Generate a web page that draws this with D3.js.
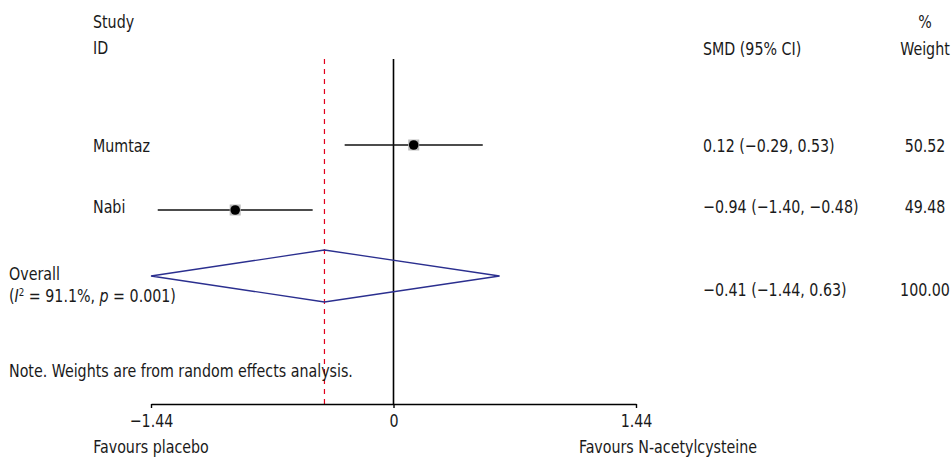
<!DOCTYPE html>
<html><head><meta charset="utf-8">
<script src="https://cdn.jsdelivr.net/npm/d3@7"></script>
<style>
body{margin:0;background:#fff;}
text{font-family:"DejaVu Sans Condensed","DejaVu Sans",sans-serif;font-stretch:condensed;font-size:18px;fill:#1a1a1a;}
</style></head><body>
<svg id="c" width="952" height="459"></svg>
<script>
const studies = ["Mumtaz", "Nabi"];
const smd = [0.12, -0.94];
const lower = [-0.29, -1.40];
const upper = [0.53, -0.48];
const weights = ["50.52", "49.48"];
const ciLabels = ["0.12 (\u22120.29, 0.53)", "\u22120.94 (\u22121.40, \u22120.48)"];
const overall = {est: -0.41, lo: -1.44, hi: 0.63, label: "\u22120.41 (\u22121.44, 0.63)", weight: "100.00"};
const tickValues = [-1.44, 0, 1.44];
const tickLabels = ["\u22121.44", "0", "1.44"];

const SX = 0.88;
const svg = d3.select("#c");
const x = d3.scaleLinear().domain([-1.44, 1.44]).range([151, 636]);
const rowY = d3.scalePoint().domain(studies).range([145, 210]);
const yOverall = 276, yTop = 59, yAxis = 404;

function txt(px, py, s, anchor) {
  return svg.append("text")
    .attr("transform", `translate(${px},${py}) scale(${SX},1)`)
    .attr("text-anchor", anchor || "start").text(s);
}

// header
txt(93, 28, "Study");
txt(93, 54, "ID");
txt(703, 55, "SMD (95% CI)");
txt(925, 28, "%", "middle");
txt(925, 55, "Weight", "middle");

// null line
svg.append("line").attr("x1", x(0)).attr("x2", x(0)).attr("y1", yTop).attr("y2", yAxis)
  .attr("stroke", "#000").attr("stroke-width", 1.6);
// overall dashed line
svg.append("line").attr("x1", x(overall.est)).attr("x2", x(overall.est)).attr("y1", yTop).attr("y2", yAxis)
  .attr("stroke", "#e3001b").attr("stroke-width", 1.2).attr("stroke-dasharray", "5,5");

// studies
const rowBase = [152, 213];
studies.forEach((s, i) => {
  const y = rowY(s);
  txt(93, rowBase[i], s);
  svg.append("line").attr("x1", x(lower[i])).attr("x2", x(upper[i])).attr("y1", y).attr("y2", y)
    .attr("stroke", "#111").attr("stroke-width", 1.4);
  svg.append("rect").attr("x", x(smd[i]) - 5.5).attr("y", y - 5.5).attr("width", 11).attr("height", 11)
    .attr("fill", "#bdbdbd");
  svg.append("circle").attr("cx", x(smd[i])).attr("cy", y).attr("r", 4.8).attr("fill", "#000");
  txt(703, rowBase[i], ciLabels[i]);
  txt(925, rowBase[i], weights[i], "middle");
});

// overall diamond
const dh = 26;
svg.append("path")
  .attr("d", `M${x(overall.lo)},${yOverall} L${x(overall.est)},${yOverall - dh} L${x(overall.hi)},${yOverall} L${x(overall.est)},${yOverall + dh} Z`)
  .attr("fill", "none").attr("stroke", "#2b2f8f").attr("stroke-width", 1.3);
txt(9, 280, "Overall");
const t = txt(9, 302, "");
t.append("tspan").text("(");
t.append("tspan").attr("font-style", "italic").text("I");
t.append("tspan").attr("dy", -6).attr("font-size", "11px").text("2");
t.append("tspan").attr("dy", 6).text(" = 91.1%, ");
t.append("tspan").attr("font-style", "italic").text("p");
t.append("tspan").text(" = 0.001)");
txt(703, 296, overall.label);
txt(925, 296, overall.weight, "middle");

// note
txt(9, 377, "Note. Weights are from random effects analysis.");

// axis
const ax = svg.append("g").attr("transform", `translate(0,${yAxis})`)
  .call(d3.axisBottom(x).tickValues(tickValues).tickFormat((d, i) => tickLabels[i]).tickSize(4).tickSizeOuter(0));
ax.attr("font-size", null).attr("font-family", null);
ax.select(".domain").attr("stroke", "#000").attr("stroke-width", 1.4);
ax.selectAll(".tick line").attr("stroke", "#000").attr("stroke-width", 1.4);
ax.selectAll(".tick text").attr("fill", "#1a1a1a").attr("y", 0).attr("dy", null)
  .attr("transform", `translate(0,23) scale(${SX},1)`);

txt(x(-1.44), yAxis + 49, "Favours placebo", "middle");
txt(668, yAxis + 49, "Favours N-acetylcysteine", "middle");
</script></body></html>
